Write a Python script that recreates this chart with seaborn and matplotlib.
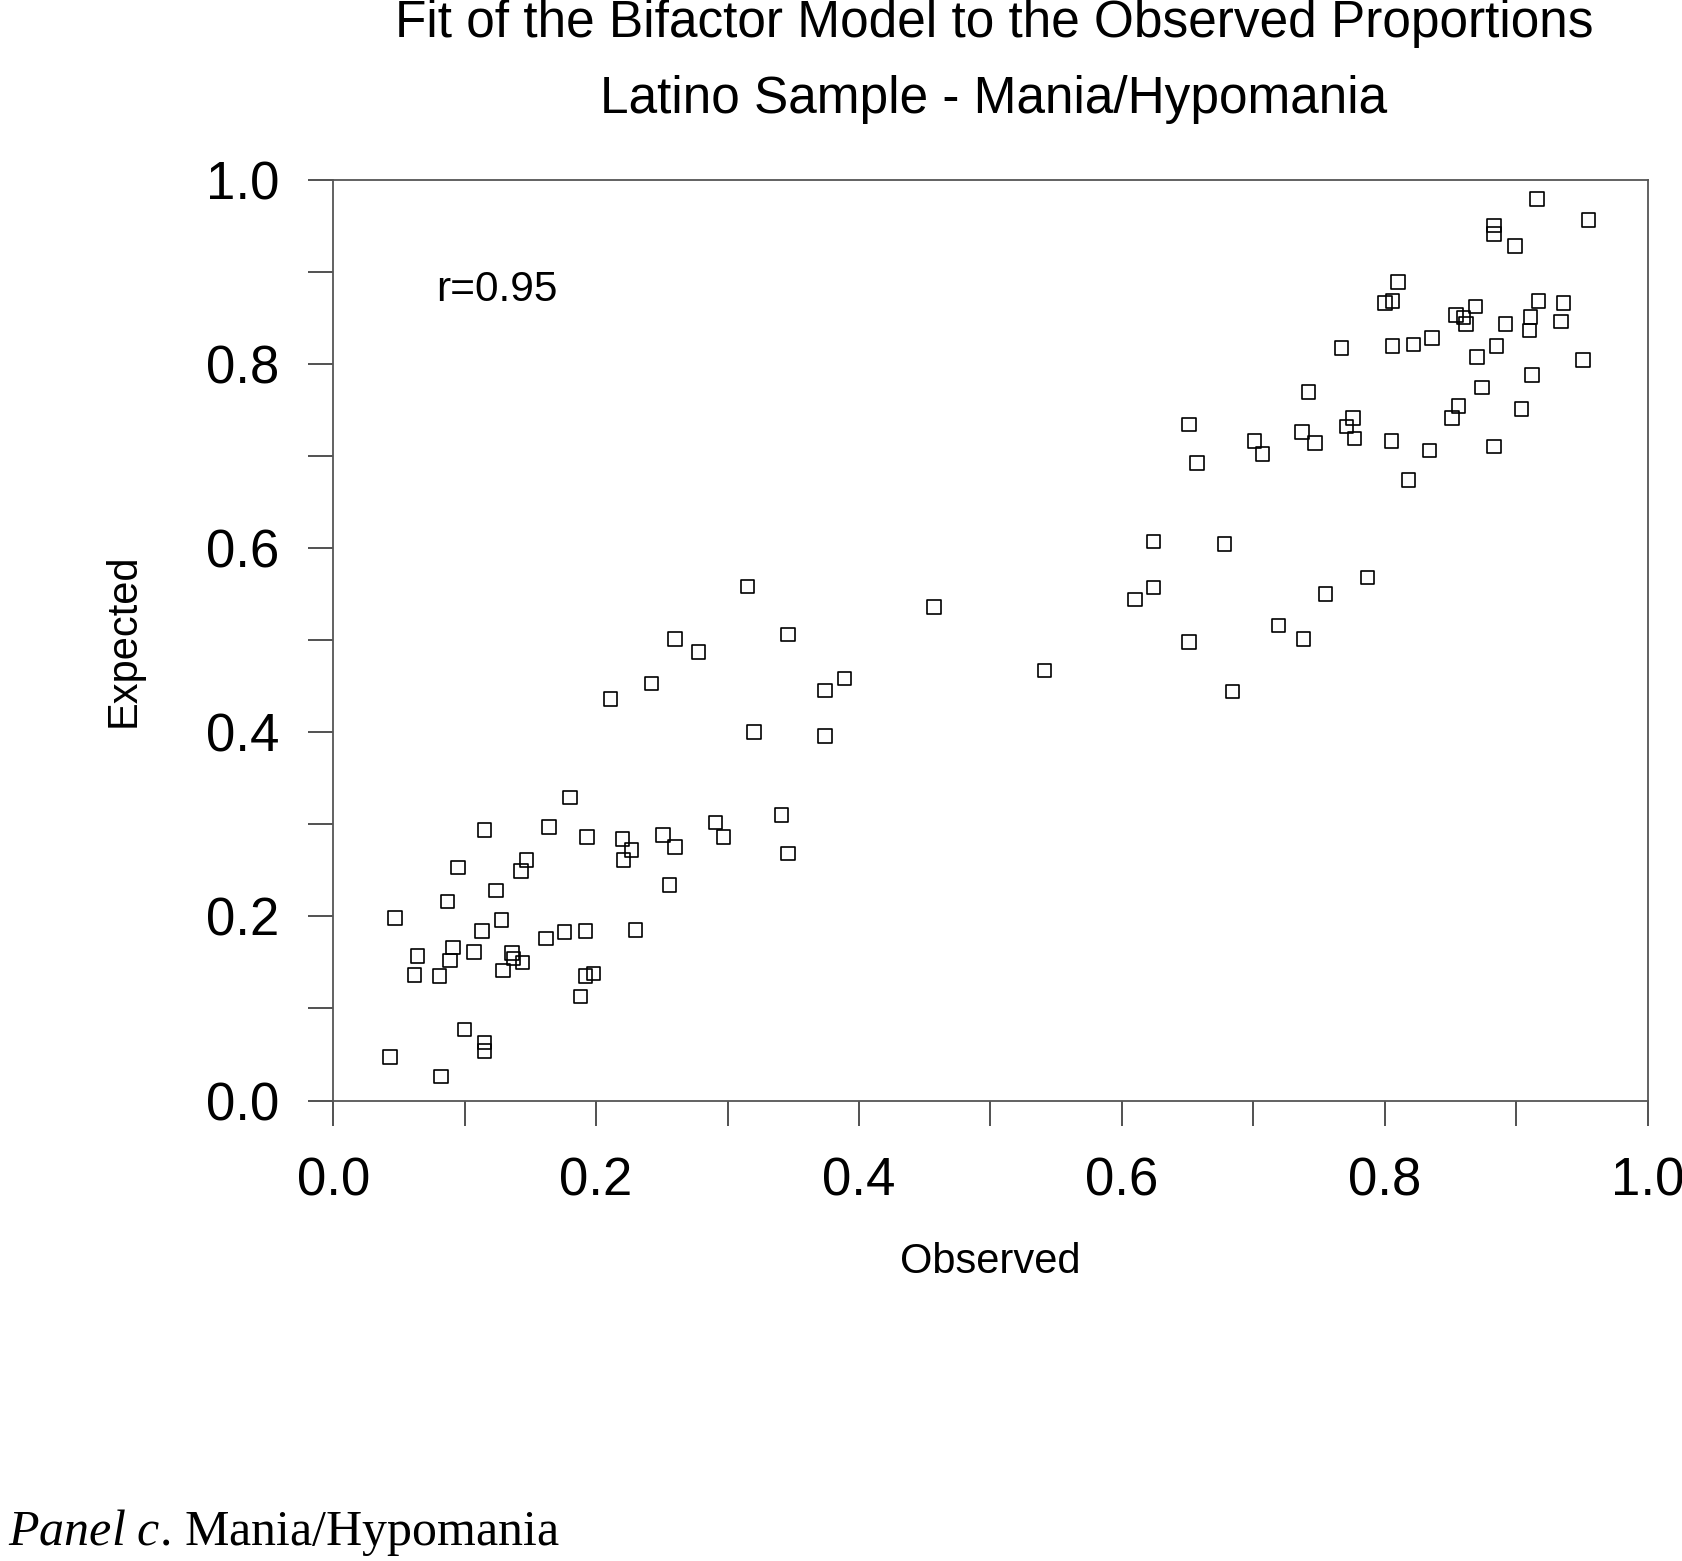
import matplotlib
matplotlib.use('Agg')
import matplotlib.pyplot as plt
from matplotlib.ticker import MultipleLocator
import seaborn as sns
import pandas as pd

# observed vs expected proportions
observed = [0.043, 0.047, 0.064, 0.062, 0.082, 0.081, 0.087, 0.089, 0.091, 0.095,
            0.100, 0.107, 0.113, 0.115, 0.115, 0.115, 0.124, 0.128, 0.129, 0.136,
            0.137, 0.143, 0.144, 0.147, 0.162, 0.164, 0.176, 0.180, 0.188, 0.192,
            0.192, 0.193, 0.198, 0.211, 0.220, 0.221, 0.227, 0.230, 0.242, 0.251,
            0.256, 0.260, 0.260, 0.278, 0.291, 0.297, 0.315, 0.320, 0.341, 0.346,
            0.346, 0.374, 0.374, 0.389, 0.457, 0.541,
            0.610, 0.624, 0.624, 0.651, 0.651, 0.657, 0.678, 0.684, 0.701, 0.707,
            0.719, 0.737, 0.738, 0.742, 0.747, 0.755, 0.767, 0.771, 0.776, 0.777,
            0.787, 0.800, 0.806, 0.806, 0.805, 0.810, 0.818, 0.822, 0.834, 0.836,
            0.851, 0.854, 0.856, 0.860, 0.862, 0.869, 0.870, 0.874, 0.883, 0.883,
            0.883, 0.885, 0.892, 0.899, 0.904, 0.910, 0.911, 0.912, 0.916, 0.917,
            0.934, 0.936, 0.951, 0.955]
expected = [0.047, 0.198, 0.157, 0.136, 0.026, 0.135, 0.216, 0.152, 0.166, 0.253,
            0.077, 0.161, 0.184, 0.294, 0.063, 0.054, 0.228, 0.196, 0.141, 0.160,
            0.154, 0.249, 0.150, 0.261, 0.176, 0.297, 0.183, 0.329, 0.113, 0.135,
            0.184, 0.286, 0.138, 0.436, 0.284, 0.261, 0.272, 0.185, 0.453, 0.288,
            0.234, 0.501, 0.275, 0.487, 0.302, 0.286, 0.558, 0.400, 0.310, 0.506,
            0.268, 0.445, 0.396, 0.458, 0.536, 0.467,
            0.544, 0.607, 0.557, 0.734, 0.498, 0.692, 0.604, 0.444, 0.716, 0.702,
            0.516, 0.726, 0.501, 0.769, 0.714, 0.550, 0.817, 0.732, 0.741, 0.719,
            0.568, 0.866, 0.868, 0.819, 0.716, 0.889, 0.674, 0.821, 0.706, 0.828,
            0.741, 0.853, 0.754, 0.850, 0.843, 0.862, 0.807, 0.774, 0.710, 0.950,
            0.941, 0.819, 0.843, 0.928, 0.751, 0.836, 0.851, 0.788, 0.979, 0.868,
            0.846, 0.866, 0.804, 0.956]

ticks = [0.0, 0.2, 0.4, 0.6, 0.8, 1.0]
tick_labels = ['0.0', '0.2', '0.4', '0.6', '0.8', '1.0']

df = pd.DataFrame({'Observed': observed, 'Expected': expected})

sns.set_style('ticks')
plt.rcParams['font.family'] = ['Liberation Sans', 'DejaVu Sans']
plt.rcParams['text.color'] = 'black'
plt.rcParams['axes.labelcolor'] = 'black'
plt.rcParams['xtick.color'] = 'black'
plt.rcParams['ytick.color'] = 'black'
plt.rcParams['mathtext.fontset'] = 'custom'
plt.rcParams['mathtext.rm'] = 'Liberation Serif'
plt.rcParams['mathtext.it'] = 'Liberation Serif:italic'

fig = plt.figure(figsize=(16.83, 15.61), dpi=100)
ax = fig.add_axes([0.198, 0.295, 0.781, 0.590])

sns.scatterplot(data=df, x='Observed', y='Expected', marker='s', s=95,
                facecolors='none', edgecolor='black', linewidth=1.2, ax=ax)

ax.set_xlim(0, 1)
ax.set_ylim(0, 1)
ax.set_xticks(ticks)
ax.set_xticklabels(tick_labels)
ax.set_yticks(ticks)
ax.set_yticklabels(tick_labels)
ax.xaxis.set_minor_locator(MultipleLocator(0.1))
ax.yaxis.set_minor_locator(MultipleLocator(0.1))
ax.tick_params(which='both', direction='out', length=18, width=1.2, color='#333333',
               top=False, right=False)
ax.tick_params(axis='x', which='major', labelsize=38, pad=22)
ax.tick_params(axis='y', which='major', labelsize=38, pad=21)
for sp in ax.spines.values():
    sp.set_color('#555555')
    sp.set_linewidth(1.3)

ax.set_xlabel('Observed', fontsize=30, labelpad=26)
ax.set_ylabel('Expected', fontsize=30, labelpad=45)

ax.text(0.078, 0.88, 'r=0.95', transform=ax.transAxes, fontsize=30.5, va='center', ha='left')

fig.text(0.5905, 1 - 24 / 1561, 'Fit of the Bifactor Model to the Observed Proportions',
         ha='center', va='center', fontsize=37)
fig.text(0.5905, 1 - 100 / 1561, 'Latino Sample - Mania/Hypomania',
         ha='center', va='center', fontsize=37)

fig.text(0.005, 1 - 1533 / 1561, r'$\it{Panel\ c}$. Mania/Hypomania', ha='left', va='center',
         fontsize=36, family='Liberation Serif')

fig.savefig('out.png', dpi=100)
